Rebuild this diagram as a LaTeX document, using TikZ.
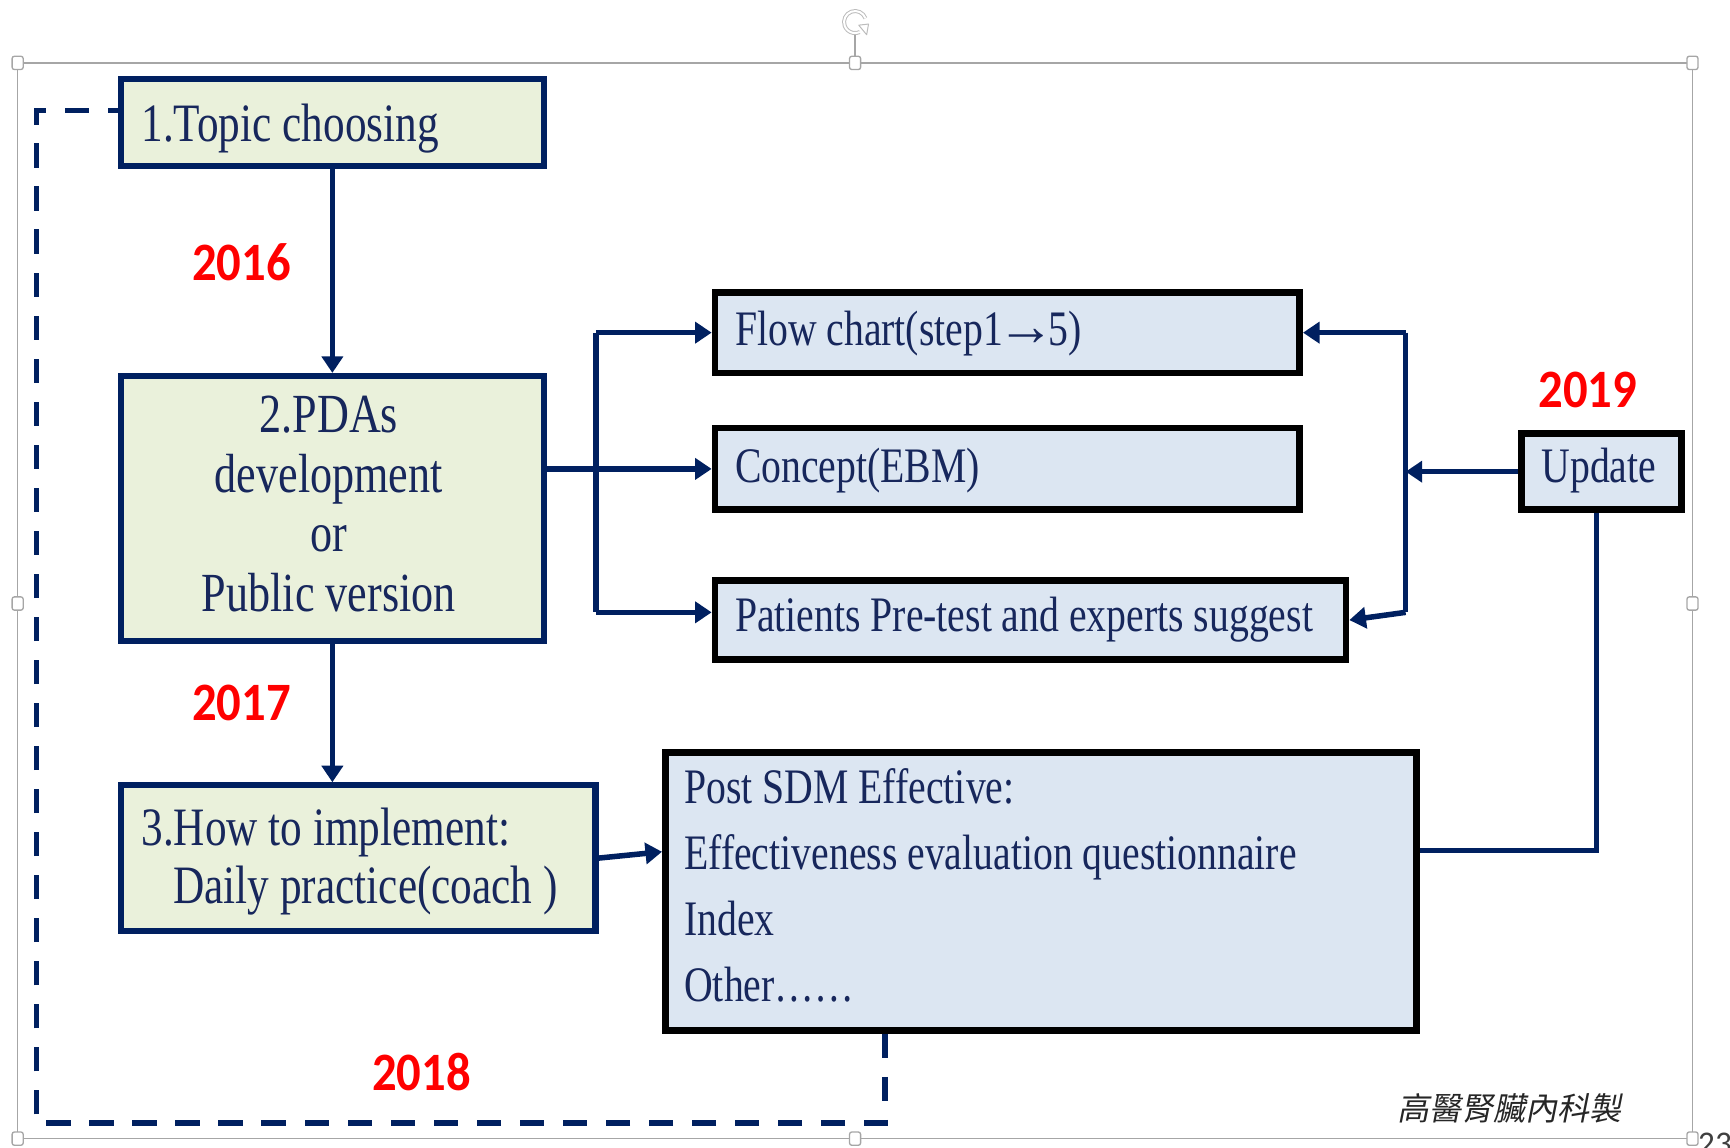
\documentclass[tikz,border=0pt]{standalone}
\usepackage{fontspec}
\usepackage{graphicx}
\usetikzlibrary{arrows.meta}

\newfontfamily\boxfont[FakeStretch=0.8]{Liberation Serif}
\newfontfamily\yearfont[FakeStretch=0.9]{Carlito}
\newfontfamily\tagfont{Carlito}
\newfontfamily\cjkfont[FakeSlant=0.2]{Noto Sans CJK TC}

\definecolor{navy}{HTML}{002060}
\definecolor{inkblue}{HTML}{17275C}
\definecolor{greenfill}{HTML}{EAF1DB}
\definecolor{bluefill}{HTML}{DCE6F2}
\definecolor{framegray}{HTML}{A6A6A6}

\newcommand{\thinarrow}{\kern-5pt\scalebox{1.45}[1.15]{→}\kern-6pt}

\tikzset{
  greenbox/.style={rectangle, draw=navy, fill=greenfill, line width=5.5pt, inner sep=0pt, anchor=north west},
  bluebox/.style={rectangle, draw=black, fill=bluefill, line width=6pt, inner sep=0pt, anchor=north west},
  boxtext/.style={inner sep=0pt, text=inkblue},
  flow/.style={draw=navy, line width=5pt, -{Triangle[length=15pt,width=19pt]}},
  trunk/.style={draw=navy, line width=5pt},
  dashloop/.style={draw=navy, line width=5pt, dash pattern=on 22pt off 17pt},
  year/.style={inner sep=0pt, text=red, font=\yearfont\bfseries\fontsize{49}{49}\selectfont},
  handle/.style={draw=framegray, fill=white, line width=1.2pt, rounded corners=2pt},
}

\begin{document}
\begin{tikzpicture}[x=1pt, y=-1pt]
\useasboundingbox (0,0) rectangle (1568,1040);

% selection frame with its handles and rotation grip
\draw[framegray, line width=1.5pt] (16,57) rectangle (1534,1032);
\draw[framegray, line width=1.2pt] (775,32) -- (775,57);
\begin{scope}[shift={(775,20)}, yscale=-1]
  \draw[draw=framegray!75, double=white, double distance=1.8pt, line width=0.9pt]
    (20:10) arc[start angle=20, end angle=295, radius=10];
  \draw[draw=framegray!75, fill=white, line width=0.9pt, line join=round]
    (3.3,-2.8) -- (10.5,-11.5) -- (12.2,-1.8) -- cycle;
\end{scope}
\foreach \hx/\hy in {16/57, 775/57, 1534/57, 16/547, 1534/547, 16/1032, 775/1032, 1534/1032}
  \draw[handle] (\hx-5,\hy-6) rectangle (\hx+5,\hy+6);

% boxes
\node[greenbox, minimum width=383pt, minimum height=79pt]  (topic)   at (107,69)  {};
\node[greenbox, minimum width=383pt, minimum height=240pt] (pdas)    at (107,338) {};
\node[greenbox, minimum width=430pt, minimum height=132pt] (howto)   at (107,709) {};
\node[bluebox,  minimum width=530pt, minimum height=73pt]  (flowc)   at (645,262) {};
\node[bluebox,  minimum width=530pt, minimum height=74pt]  (concept) at (645,385) {};
\node[bluebox,  minimum width=572pt, minimum height=72pt]  (pretest) at (645,523) {};
\node[bluebox,  minimum width=145pt, minimum height=69pt]  (update)  at (1376,390) {};
\node[bluebox,  minimum width=681pt, minimum height=252pt] (post)    at (600,679) {};

% box texts
\node[boxtext, anchor=base west, font=\boxfont\fontsize{49}{54}\selectfont] (ttopic) at (128,128) {1.Topic choosing};
\node[boxtext, anchor=north, align=center, font=\boxfont\fontsize{50}{54}\selectfont] (tpdas) at (298,359)
  {2.PDAs\\development\\or\\Public version};
\node[boxtext, anchor=north west, align=left, font=\boxfont\fontsize{49}{53}\selectfont] (thowto) at (128,732)
  {3.How to implement:\\\hspace*{29pt}Daily practice(coach )};
\node[boxtext, anchor=base west, font=\boxfont\fontsize{45}{54}\selectfont] (tflowc) at (666,313) {Flow chart(step1\thinarrow5)};
\node[boxtext, anchor=base west, font=\boxfont\fontsize{45}{54}\selectfont] (tconcept) at (666,437) {Concept(EBM)};
\node[boxtext, anchor=base west, font=\boxfont\fontsize{45}{54}\selectfont] (tpretest) at (666,572) {Patients Pre-test and experts suggest};
\node[boxtext, anchor=base west, font=\boxfont\fontsize{45}{54}\selectfont] (tupdate) at (1397,437) {Update};
\node[boxtext, anchor=north west, align=left, font=\boxfont\fontsize{45}{60}\selectfont] (tpost) at (620,696)
  {Post SDM Effective:\\Effectiveness evaluation questionnaire\\Index\\Other……};

% year labels
\node[year] (y2016) at (219,238) {2016};
\node[year] (y2017) at (219,637) {2017};
\node[year] (y2018) at (382,972) {2018};
\node[year] (y2019) at (1439,353) {2019};

% main flow
\draw[flow] (topic.south) -- (pdas.north);
\draw[flow] (pdas.south) -- (pdas.south |- howto.north);
\draw[flow] (howto.east) -- (post.west |- 0,772);

% fan-out to the three parts of the PDA
\coordinate (busL) at (540,423);
\coordinate (busLlow) at (540,555);
\draw[flow] (pdas.east |- concept.west) -- (concept.west);
\draw[trunk] (busL |- flowc.west) -- (busLlow);
\draw[flow] (busL |- flowc.west) -- (flowc.west);
\draw[flow] (busLlow) -- (pretest.west |- busLlow);

% update feedback
\coordinate (busR) at (1274,423);
\coordinate (busRlow) at (1274,555);
\coordinate (fb) at (1447,771);
\draw[trunk] (post.east |- fb) -- (fb) -- (fb |- update.south);
\draw[flow] (update.west) -- (busR |- update.west);
\draw[trunk] (busR |- flowc.east) -- (busRlow);
\draw[flow] (busR |- flowc.east) -- (flowc.east);
\draw[flow] (busRlow) -- (pretest.east);

% dashed loop back to topic choosing
\coordinate (loopBR) at (802,1018);
\coordinate (loopBL) at (33,1018);
\coordinate (loopTL) at (33,100);
\draw[dashloop] (post.south -| loopBR) -- (loopBR) -- (loopBL) -- (loopTL) -- (topic.west |- loopTL);

% credit line and page number
\node[inner sep=0pt, anchor=base west, text=black!85, font=\cjkfont\fontsize{29}{29}\selectfont] (credit) at (1266,1016) {高醫腎臟內科製};
\node[inner sep=0pt, anchor=north west, text=black!75, font=\tagfont\fontsize{30}{30}\selectfont] (pagenum) at (1539,1027) {23};
\end{tikzpicture}
\end{document}
